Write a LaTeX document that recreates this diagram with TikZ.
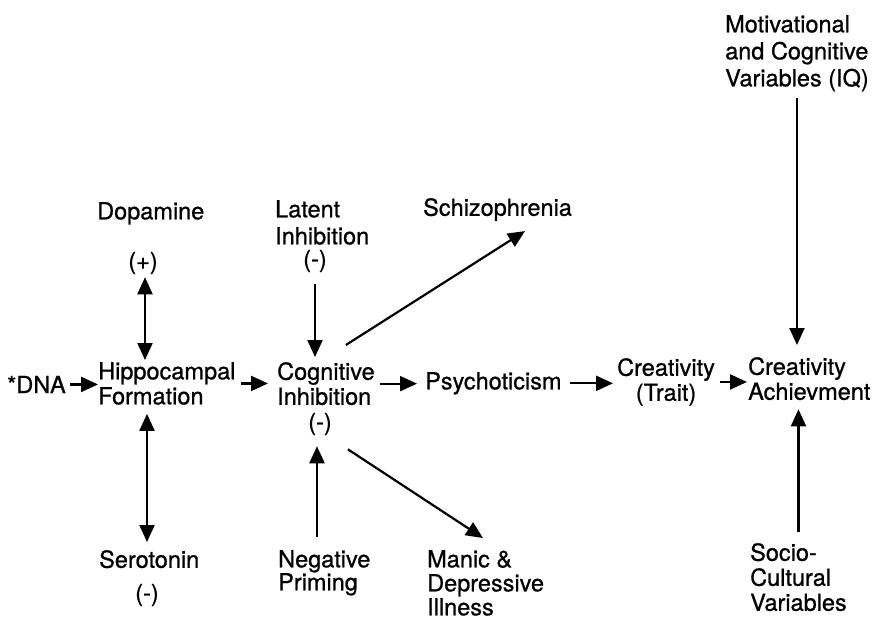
\documentclass[tikz,border=0pt]{standalone}
\usepackage{fontspec}
\setmainfont{TeX Gyre Heros}[FakeBold=0.8]
\usetikzlibrary{arrows.meta,calc}
\begin{document}
\begin{tikzpicture}[x=1pt,y=-1pt,
  lbl/.style={inner sep=0pt, anchor=north west, align=left, font=\fontsize{23.5}{25}\selectfont},
  sgn/.style={inner sep=0pt, font=\fontsize{23.5}{25}\selectfont},
  arr/.style={line width=2.2pt, -{Triangle[length=17pt,width=15pt]}},
  darr/.style={line width=2.2pt, {Triangle[length=17pt,width=15pt]}-{Triangle[length=17pt,width=15pt]}}]
\useasboundingbox (0,0) rectangle (880,620);
% nodes
\node[lbl] (dop) at (97,202) {Dopamine};
\node[sgn] (plus) at (143,263) {(+)};
\node[lbl] (lat) at (275,200) {Latent\\[2pt]Inhibition};
\node[sgn] (lminus) at (315,261) {(-)};
\node[lbl] (schiz) at (423,198) {Schizophrenia};
\node[lbl] (mot) at (725,15) {Motivational\\[2pt]and Cognitive\\[2pt]Variables (IQ)};
\node[lbl,anchor=base west] (dna) at (7,393) {*DNA};
\node[lbl] (hip) at (98,362) {Hippocampal\\Formation};
\node[lbl] (cog) at (277,362) {Cognitive\\Inhibition};
\node[sgn] (cminus) at (320,424) {(-)};
\node[lbl] (psy) at (425,372) {Psychoticism};
\node[lbl,align=center] (trait) at (617,358) {Creativity\\(Trait)};
\node[lbl] (ca) at (748,357) {Creativity\\Achievment};
\node[lbl] (sero) at (99,550) {Serotonin};
\node[sgn] (sminus) at (147,595) {(-)};
\node[lbl] (neg) at (278,550) {Negative\\[-2pt]Priming};
\node[lbl] (man) at (427,550) {Manic \&\\[-1pt]Depressive\\[-1pt]Illness};
\node[lbl] (soc) at (750,543) {Socio-\\Cultural\\Variables};
% connectors
\draw[arr,shorten <=4pt] (dna.east) -- (dna.east -| hip.west);
\draw[arr,shorten <=5pt,shorten >=9pt] (hip.east) -- (hip.east -| cog.west);
\draw[arr,shorten <=5pt,shorten >=8pt] (cog.east) -- (cog.east -| psy.west);
\draw[arr,shorten <=8pt,shorten >=4pt] (psy.east) -- (psy.east -| trait.west);
\draw[arr,shorten <=5pt,shorten >=1pt] (trait.east) -- (trait.east -| ca.west);
\draw[arr,shorten <=6pt,shorten >=12pt] (mot.south) -- (mot.south |- ca.north);
\draw[arr,shorten <=11pt,shorten >=9pt] (soc.north) -- (soc.north |- ca.south);
\draw[darr,shorten <=3pt,shorten >=2pt] ([xshift=2pt]plus.south) -- ([xshift=2pt]plus.south |- hip.north);
\draw[darr,shorten <=9pt,shorten >=8pt] (sminus |- hip.south) -- (sminus |- sero.north);
\draw[arr,shorten <=12pt,shorten >=5pt] (lminus.south) -- (lminus.south |- cog.north);
\draw[arr,shorten <=13pt,shorten >=11pt] ([xshift=-3pt]cminus.south |- neg.north) -- ([xshift=-3pt]cminus.south);
\draw[arr] ($(cog.north east)+(-29,-17)$) -- ($(schiz.south west)+(102,10)$);
\draw[arr] ($(cog.south east)+(-27,44)$) -- ($(man.north west)+(56,-12)$);
\end{tikzpicture}
\end{document}
